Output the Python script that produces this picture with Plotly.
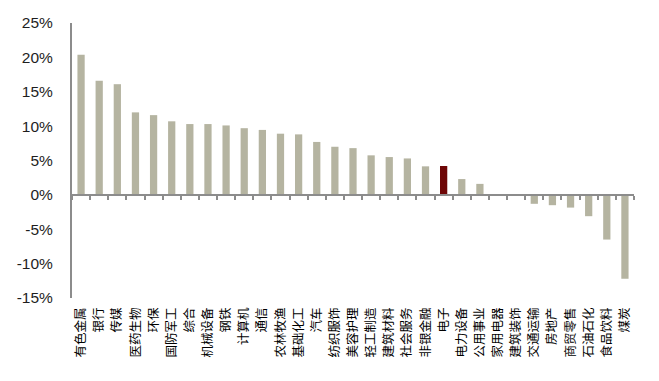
import plotly.graph_objects as go

categories = ["有色金属", "银行", "传媒", "医药生物", "环保", "国防军工", "综合", "机械设备",
              "钢铁", "计算机", "通信", "农林牧渔", "基础化工", "汽车", "纺织服饰", "美容护理",
              "轻工制造", "建筑材料", "社会服务", "非银金融", "电子", "电力设备", "公用事业",
              "家用电器", "建筑装饰", "交通运输", "房地产", "商贸零售", "石油石化", "食品饮料", "煤炭"]
values = [20.4, 16.6, 16.1, 12.0, 11.6, 10.7, 10.3, 10.3, 10.1, 9.7, 9.45, 8.9, 8.8, 7.7, 7.0, 6.8,
          5.75, 5.5, 5.3, 4.15, 4.2, 2.3, 1.6, 0.1, -0.1, -1.3, -1.5, -1.85, -3.1, -6.5, -12.2]
highlight = "电子"
y_ticks = [-15, -10, -5, 0, 5, 10, 15, 20, 25]
y_ticktext = [f"{v}%" for v in y_ticks]

GREY = "#b5b4a1"
RED = "#6e0606"
colors = [RED if c == highlight else GREY for c in categories]

fig = go.Figure()
fig.add_trace(go.Bar(x=categories, y=values, marker=dict(color=colors, line=dict(width=0)),
                     xaxis="x2", yaxis="y", hoverinfo="x+y"))
# invisible trace to carry the bottom category labels
fig.add_trace(go.Scatter(x=categories, y=[0] * len(categories), mode="markers",
                         marker=dict(opacity=0), xaxis="x", yaxis="y", hoverinfo="skip",
                         showlegend=False))

# the page body has an 8px margin, so the figure is sized to fit inside the window
fig.update_layout(
    width=651, height=373,
    margin=dict(l=64, r=25, t=15, b=83),
    paper_bgcolor="white", plot_bgcolor="white",
    showlegend=False, bargap=0.6,
    xaxis=dict(type="category", categoryorder="array", categoryarray=categories,
               range=[-0.5, len(categories) - 0.5], showline=False, ticks="", showgrid=False,
               tickangle=-90, ticklabelstandoff=6, automargin=False,
               tickfont=dict(family="Noto Sans CJK SC", size=12.5, color="#000000")),
    xaxis2=dict(type="category", categoryorder="array", categoryarray=categories,
                range=[-0.5, len(categories) - 0.5], overlaying="x", anchor="free",
                position=15 / 40, showline=True, linecolor="#8c8c8c", linewidth=2,
                ticks="outside", ticklen=4, tickwidth=1.5, tickcolor="#8c8c8c",
                tickson="boundaries", showticklabels=False, showgrid=False, automargin=False),
    yaxis=dict(range=[-15, 25], tickvals=y_ticks, ticktext=y_ticktext, showgrid=False,
               zeroline=False, showline=True, linecolor="#8c8c8c", linewidth=2, ticks="",
               ticklabelstandoff=14, automargin=False,
               tickfont=dict(family="Liberation Sans", size=15.5, color="#1e1e1e")),
)

fig.write_html("out.html")
